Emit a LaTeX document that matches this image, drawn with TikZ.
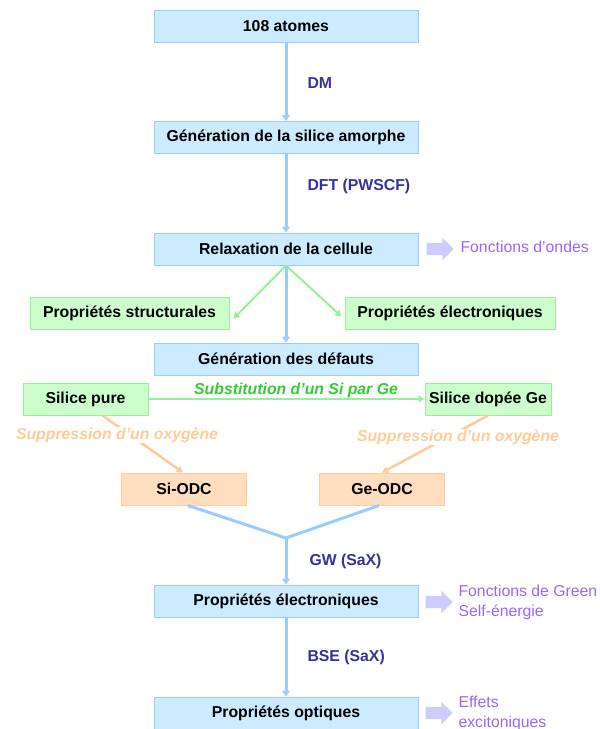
\documentclass[tikz,border=0pt]{standalone}
\usepackage{fontspec}
\setmainfont{Liberation Sans}
\usepackage{tikz}
\usetikzlibrary{positioning}
\usetikzlibrary{shapes.arrows}
\usetikzlibrary{arrows.meta}
\usetikzlibrary{calc}

\definecolor{boxblue}{HTML}{CCEBFF}
\definecolor{lineblue}{HTML}{99CCFF}
\definecolor{boxgreen}{HTML}{CCFFCC}
\definecolor{linegreen}{HTML}{99EE99}
\definecolor{textgreen}{HTML}{33CC33}
\definecolor{boxorange}{HTML}{FFDDBF}
\definecolor{lineorange}{HTML}{FFCC99}
\definecolor{textnavy}{HTML}{333399}
\definecolor{textpurple}{HTML}{9966FF}
\definecolor{lavender}{HTML}{CCCCFF}

\tikzset{
    boxbase/.style={line width=1pt, minimum height=32pt, inner sep=0pt,
        font=\fontsize{15.8}{18}\selectfont\bfseries},
    mainbox/.style={boxbase, draw=lineblue, fill=boxblue, minimum width=264pt},
    greenbox/.style={boxbase, draw=linegreen, fill=boxgreen},
    orangebox/.style={boxbase, draw=lineorange, fill=boxorange, minimum width=125pt},
    bluearrow/.style={draw=lineblue, line width=3pt, -{Triangle[width=8pt,length=6pt]}},
    greenarrow/.style={draw=linegreen, line width=2pt, -{Triangle[width=7pt,length=6pt]}},
    orangearrow/.style={draw=lineorange, line width=2.5pt, -{Triangle[width=7pt,length=6pt]}},
    stepname/.style={anchor=west, text=textnavy, font=\fontsize{15.8}{18}\selectfont\bfseries},
    fleche/.style={single arrow, fill=lavender, draw=none, minimum height=27pt,
        inner xsep=0pt, inner ysep=6pt, single arrow head extend=5pt},
    notetext/.style={anchor=west, text=textpurple, align=left,
        font=\fontsize{15.8}{20}\selectfont}
}

\begin{document}
\begin{tikzpicture}[x=1pt,y=-1pt]
    \useasboundingbox (0,0) rectangle (600,729);

    % main chain
    \node[mainbox] (atomes) at (286,26.5) {108 atomes};
    \node[mainbox] (amorphe) at (286,137.5) {Génération de la silice amorphe};
    \node[mainbox] (relax) at (286,249) {Relaxation de la cellule};
    \node[greenbox, minimum width=199pt] (struct) at (129.5,313.5) {Propriétés structurales};
    \node[greenbox, minimum width=210pt] (elecv) at (450,313.5) {Propriétés électroniques};
    \node[mainbox] (defauts) at (286,359) {Génération des défauts};
    \node[greenbox, minimum width=125pt] (pure) at (85.5,399) {Silice pure};
    \node[greenbox, minimum width=126pt] (dopee) at (488,399) {Silice dopée Ge};
    \node[orangebox] (siodc) at (184,489) {Si-ODC};
    \node[orangebox] (geodc) at (382,489) {Ge-ODC};
    \node[mainbox] (elec) at (286,601) {Propriétés électroniques};
    \node[mainbox] (optique) at (286,713) {Propriétés optiques};

    % vertical arrows
    \draw[bluearrow] (atomes) -- (amorphe);
    \node[stepname] (dm) at (304,83) {DM};
    \draw[bluearrow] (amorphe) -- (relax);
    \node[stepname] (dft) at (304,186) {DFT (PWSCF)};
    \draw[bluearrow] (relax) -- (defauts);
    \draw[greenarrow] (relax.south) -- ($(struct.east)+(4,5)$);
    \draw[greenarrow] (relax.south) -- ($(elecv.west)+(-3,3)$);

    % defects
    \draw[greenarrow] (pure) -- (dopee);
    \node[text=textgreen, font=\fontsize{15.8}{18}\selectfont\bfseries\itshape] (subst) at (296,390) {Substitution d’un Si par Ge};
    \draw[orangearrow] ($(pure.south)+(17,0)$) -- ($(siodc.north)+(-1,0)$);
    \node[fill=white, inner sep=1pt, text=lineorange, font=\fontsize{15.8}{18}\selectfont\bfseries\itshape] (supsi) at (117,435) {Suppression d’un oxygène};
    \draw[orangearrow] (dopee.south) -- (geodc.north);
    \node[fill=white, inner sep=1pt, text=lineorange, font=\fontsize{15.8}{18}\selectfont\bfseries\itshape] (supge) at (458,437) {Suppression d’un oxygène};

    % merge
    \coordinate (jonction) at (286,538);
    \draw[draw=lineblue, line width=3pt, line join=round] ($(siodc.south)+(4,0)$) -- (jonction) -- ($(geodc.south)+(-3,0)$);
    \draw[bluearrow] (jonction) -- (elec);
    \node[stepname] (gw) at (306,561) {GW (SaX)};
    \draw[bluearrow] (elec) -- (optique);
    \node[stepname] (bse) at (304,657) {BSE (SaX)};

    % outputs
    \node[fleche] (f1) at (437,249) {};
    \node[notetext] (ondes) at (457,247) {Fonctions d’ondes};
    \node[fleche] (f2) at (436,602) {};
    \node[notetext] (green) at (455,602) {Fonctions de Green\\Self-énergie};
    \node[fleche] (f3) at (436,713) {};
    \node[notetext] (exciton) at (455,713) {Effets\\excitoniques};
\end{tikzpicture}
\end{document}
